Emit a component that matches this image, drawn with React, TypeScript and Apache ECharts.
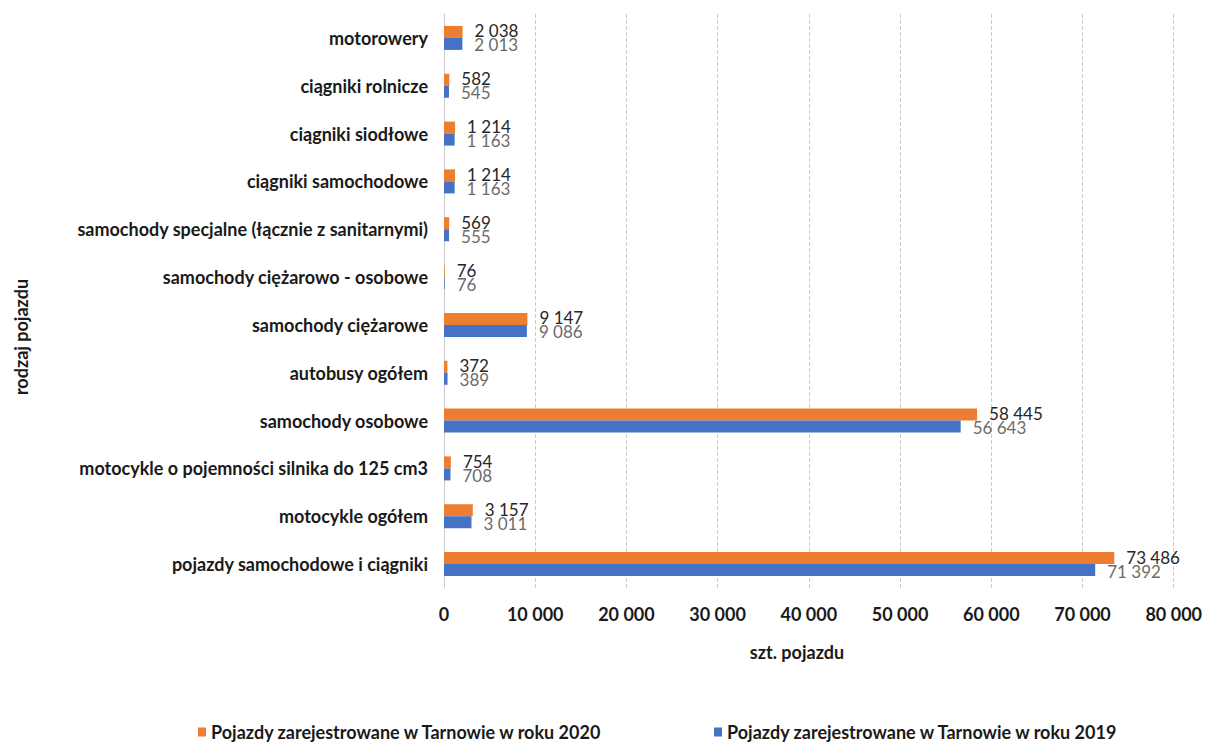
import React, { useEffect, useRef } from "react";
import * as echarts from "echarts";

const categories = [
  "pojazdy samochodowe i ciągniki",
  "motocykle ogółem",
  "motocykle o pojemności silnika do 125 cm3",
  "samochody osobowe",
  "autobusy ogółem",
  "samochody ciężarowe",
  "samochody ciężarowo - osobowe",
  "samochody specjalne (łącznie z sanitarnymi)",
  "ciągniki samochodowe",
  "ciągniki siodłowe",
  "ciągniki rolnicze",
  "motorowery",
];
const values2020 = [73486, 3157, 754, 58445, 372, 9147, 76, 569, 1214, 1214, 582, 2038];
const values2019 = [71392, 3011, 708, 56643, 389, 9086, 76, 555, 1163, 1163, 545, 2013];
const name2020 = "Pojazdy zarejestrowane w Tarnowie w roku 2020";
const name2019 = "Pojazdy zarejestrowane w Tarnowie w roku 2019";
const xTitle = "szt. pojazdu";
const yTitle = "rodzaj pojazdu";

const FONT = "Lato";
const fmt = (v: number) => String(v).replace(/\B(?=(\d{3})+(?!\d))/g, " ");

export default function App() {
  const ref = useRef<HTMLDivElement>(null);
  useEffect(() => {
    const chart = echarts.init(ref.current!, null, { renderer: "svg" });
    const legendText = { fontFamily: FONT, fontWeight: "bold", fontSize: 18, color: "#1a1a1a" };
    chart.setOption({
      animation: false,
      textStyle: { fontFamily: FONT },
      grid: { left: 444, right: 28, top: 14, bottom: 154, containLabel: false },
      graphic: [
        {
          type: "text",
          x: 797,
          y: 652,
          style: {
            text: xTitle,
            fontFamily: FONT,
            fontWeight: "bold",
            fontSize: 18,
            fill: "#1a1a1a",
            align: "center",
            verticalAlign: "middle",
          },
        },
        {
          type: "text",
          x: 21,
          y: 337,
          rotation: Math.PI / 2,
          style: {
            text: yTitle,
            fontFamily: FONT,
            fontWeight: "bold",
            fontSize: 18,
            fill: "#1a1a1a",
            align: "center",
            verticalAlign: "middle",
          },
        },
      ],
      legend: [
        {
          data: [name2020],
          left: 193,
          top: 723,
          itemWidth: 8,
          itemHeight: 9,
          icon: "rect",
          padding: [0, 5],
          textStyle: legendText,
        },
        {
          data: [name2019],
          left: 709,
          top: 723,
          itemWidth: 8,
          itemHeight: 9,
          icon: "rect",
          padding: [0, 5],
          textStyle: legendText,
        },
      ],
      xAxis: {
        type: "value",
        min: 0,
        max: 80000,
        interval: 10000,
        axisLine: { show: false },
        axisTick: { show: false },
        axisLabel: {
          formatter: (v: number) => fmt(v),
          fontFamily: FONT,
          fontWeight: "bold",
          fontSize: 18,
          color: "#1a1a1a",
          margin: 17,
        },
        splitLine: { show: true, lineStyle: { color: "#cccccc", type: "dashed", width: 1 } },
      },
      yAxis: {
        type: "category",
        data: categories,
        axisLine: { show: true, lineStyle: { color: "#cccccc" } },
        axisTick: { show: false },
        axisLabel: {
          fontFamily: FONT,
          fontWeight: "bold",
          fontSize: 18,
          color: "#1a1a1a",
          margin: 16,
        },
      },
      series: [
        {
          name: name2020,
          type: "bar",
          data: values2020,
          barWidth: 12,
          barGap: "0%",
          itemStyle: { color: "#ED7D31" },
          label: {
            show: true,
            position: "right",
            distance: 12,
            offset: [0, -1],
            formatter: (p: any) => fmt(p.value),
            fontFamily: FONT,
            fontSize: 17,
            color: "#262626",
          },
        },
        {
          name: name2019,
          type: "bar",
          data: values2019,
          barWidth: 12,
          barGap: "0%",
          itemStyle: { color: "#4472C4" },
          label: {
            show: true,
            position: "right",
            distance: 12,
            offset: [0, 1],
            formatter: (p: any) => fmt(p.value),
            fontFamily: FONT,
            fontSize: 17,
            color: "#6b6b6b",
          },
        },
      ],
    });
    return () => chart.dispose();
  }, []);
  return (
    <div
      ref={ref}
      style={{ position: "absolute", left: 0, top: 0, width: 1205, height: 742, background: "#fff" }}
    />
  );
}
